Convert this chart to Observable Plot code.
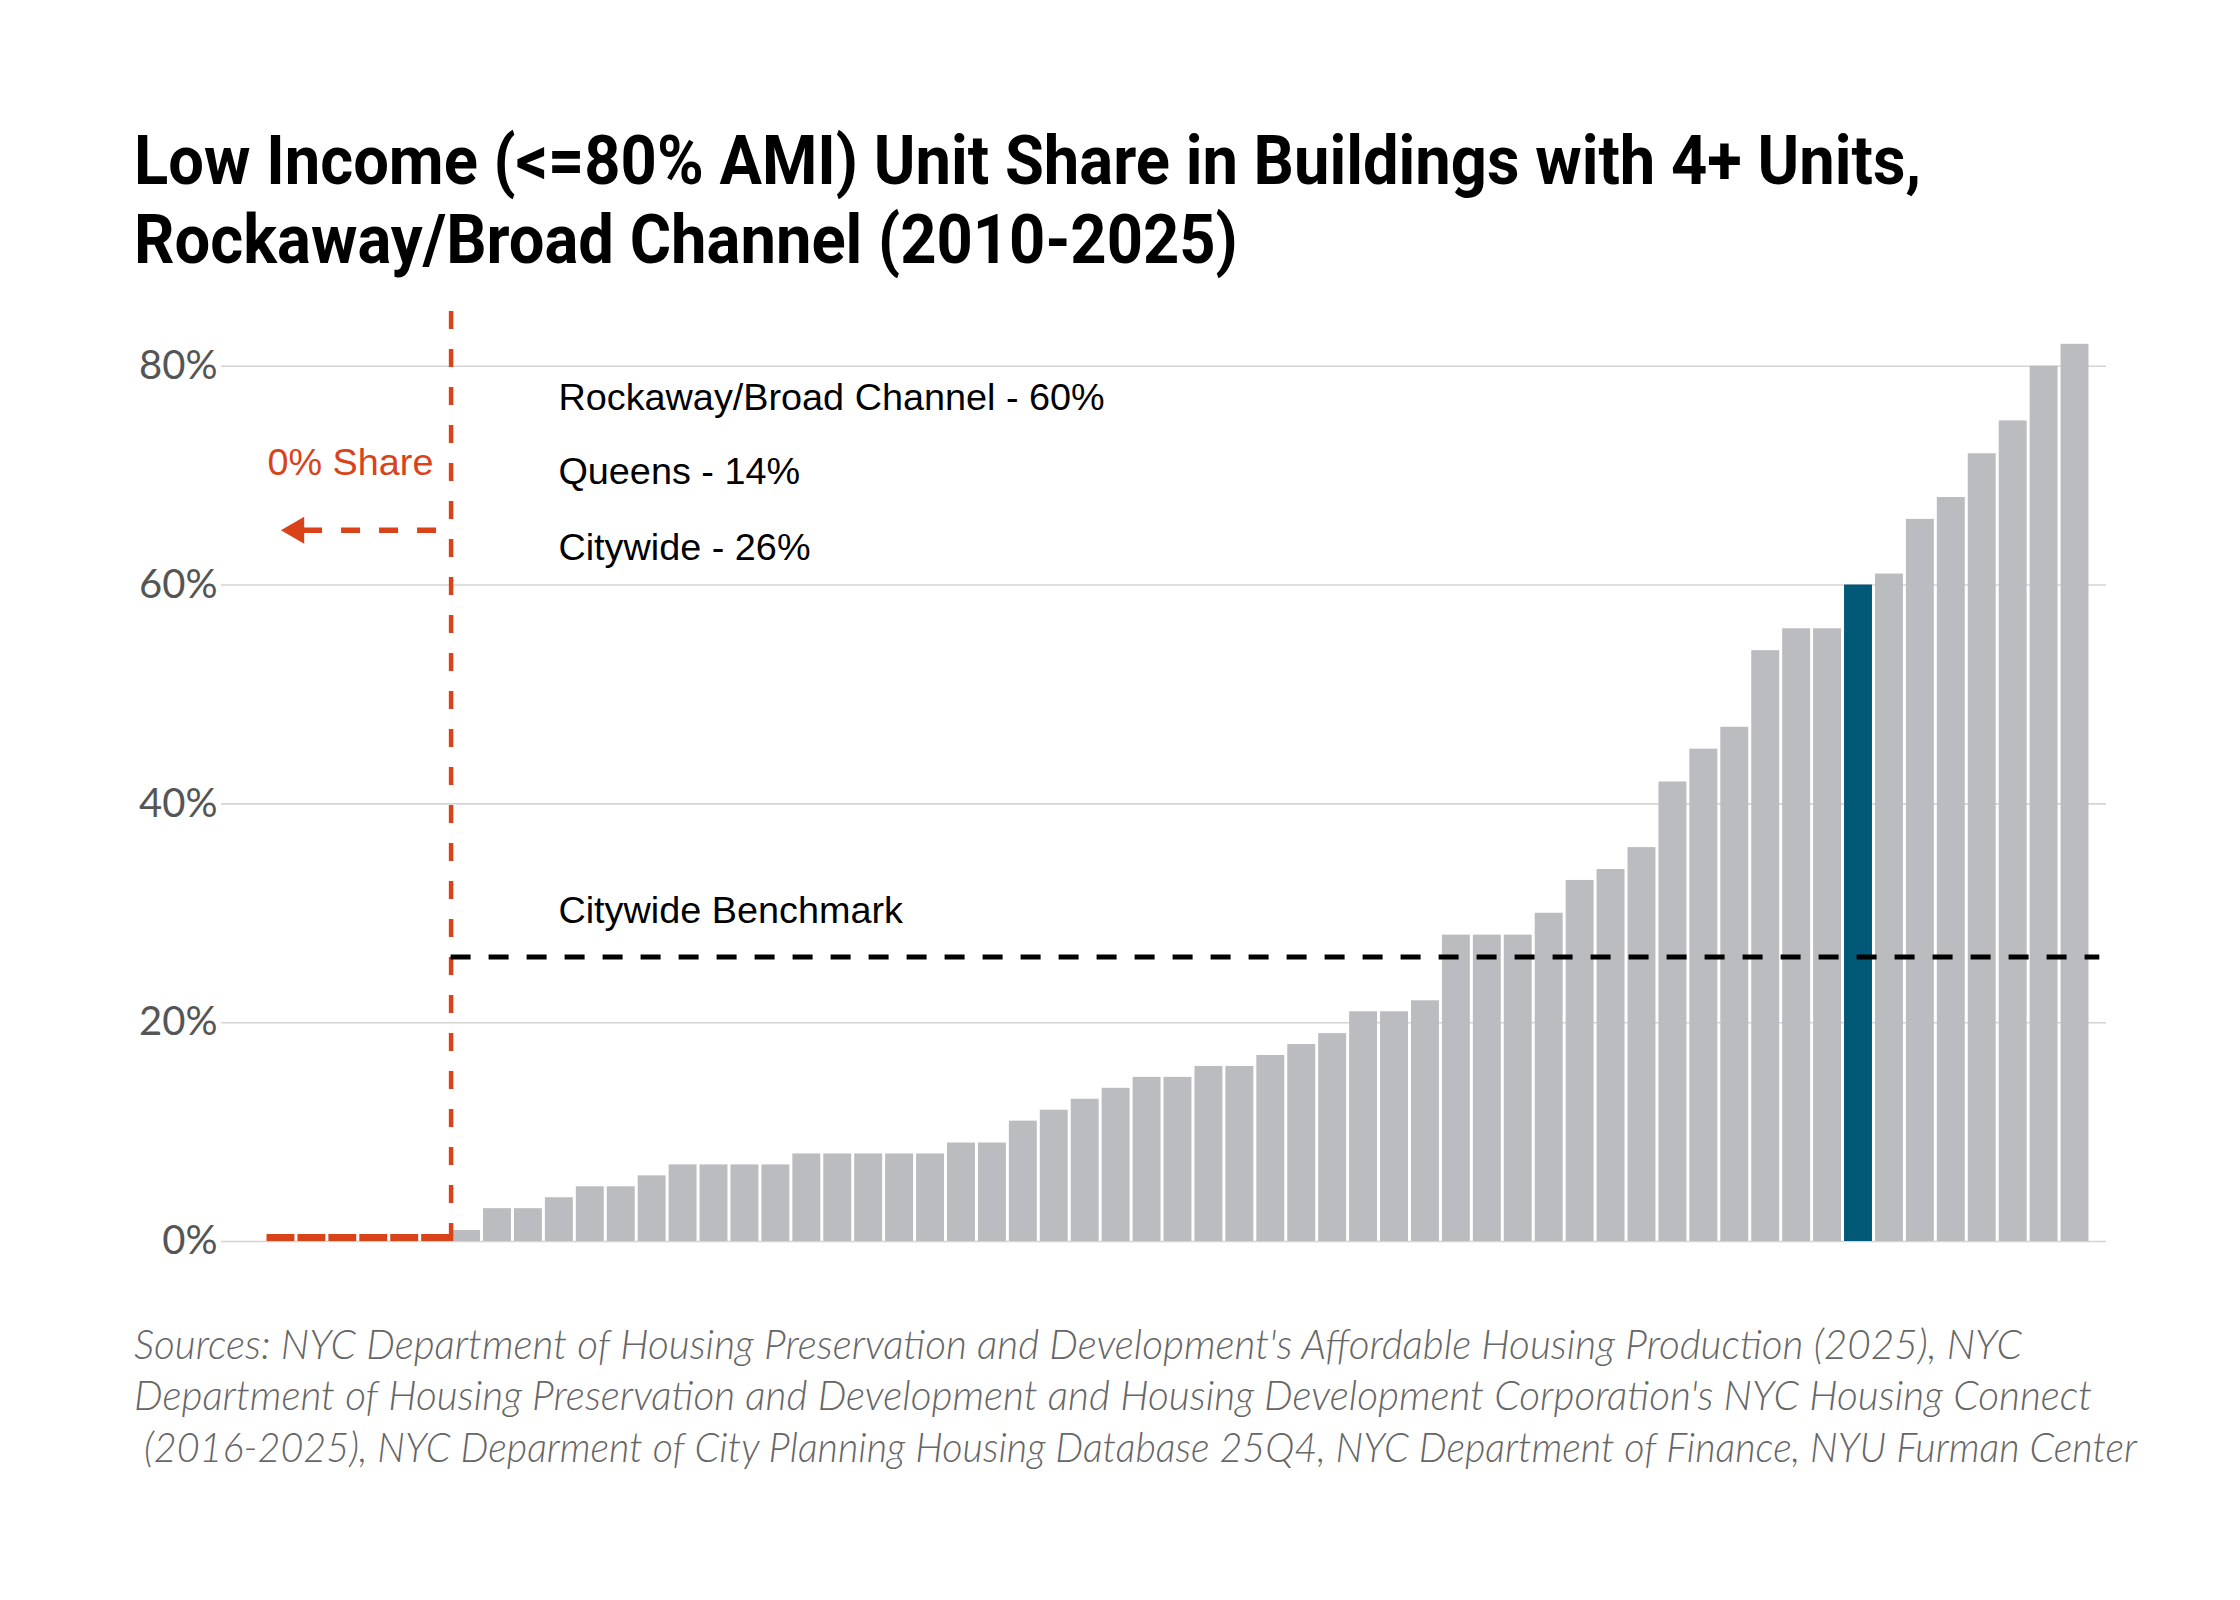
<!DOCTYPE html>
<html>
<head>
<meta charset="utf-8">
<script src="https://cdn.jsdelivr.net/npm/d3@7"></script>
<script src="https://cdn.jsdelivr.net/npm/@observablehq/plot@0.6"></script>
<style>
  html, body { margin: 0; padding: 0; background: #fff; }
  body { width: 2240px; height: 1600px; position: relative; overflow: hidden; }
  #title { position: absolute; left: 134px; top: 122px; margin: 0;
    font-family: "Roboto", "Liberation Sans", sans-serif;
    font-weight: 700; font-size: 68px; line-height: 79px; color: #000; white-space: pre;
    transform-origin: 0 0; }
  #title span, #caption span { display: inline-block; transform-origin: 0 0; }
  #chart { position: absolute; left: 0; top: 290px; }
  #caption { position: absolute; left: 134px; top: 1320px; margin: 0;
    font-family: "Lato", "Open Sans", sans-serif; font-style: italic; font-weight: 300;
    font-size: 35px; line-height: 51.5px; color: #666; white-space: pre; }
</style>
</head>
<body>
<div id="title"></div>
<div id="chart"></div>
<div id="caption"></div>
<script>
// ---- data ----
const titleLines = [
  "Low Income (<=80% AMI) Unit Share in Buildings with 4+ Units,",
  "Rockaway/Broad Channel (2010-2025)"
];
const captionLines = [
  "Sources: NYC Department of Housing Preservation and Development's Affordable Housing Production (2025), NYC",
  "Department of Housing Preservation and Development and Housing Development Corporation's NYC Housing Connect",
  " (2016-2025), NYC Deparment of City Planning Housing Database 25Q4, NYC Department of Finance, NYU Furman Center"
];
// low income unit share (%) of each community district, sorted ascending
const shares = [0, 0, 0, 0, 0, 0,
  1, 3, 3, 4, 5, 5, 6, 7, 7, 7, 7, 8, 8, 8, 8, 8, 9, 9, 11, 12, 13, 14, 15, 15,
  16, 16, 17, 18, 19, 21, 21, 22, 28, 28, 28, 30, 33, 34, 36, 42, 45, 47, 54, 56,
  56, 60, 61, 66, 68, 72, 75, 80, 82];
const highlightShare = 60; // Rockaway/Broad Channel
const benchmarkNames = ["Rockaway/Broad Channel", "Queens", "Citywide"];
const benchmarkValues = [60, 14, 26];
const citywideBenchmark = 26;
const benchmarkLabel = "Citywide Benchmark";
const zeroLabel = "0% Share";
const yTicks = [0, 20, 40, 60, 80];

// ---- header / footer text ----
function fillLines(el, lines) {
  lines.forEach((t, k) => {
    const s = document.createElement("span"); s.textContent = t; el.appendChild(s);
    if (k < lines.length - 1) el.appendChild(document.createElement("br"));
  });
  return [...el.querySelectorAll("span")];
}
const titleEl = document.getElementById("title");
const titleSpans = fillLines(titleEl, titleLines);
const tW = titleSpans[0].getBoundingClientRect().width;
titleEl.style.transform = `scaleX(${1787 / tW})`;

const capEl = document.getElementById("caption");
const capSpans = fillLines(capEl, captionLines);
const cW = capSpans[0].getBoundingClientRect().width;
const cf = 35 * 1888 / cW;
capEl.style.fontSize = cf + "px";
capEl.style.top = (1359 - (25.75 + 0.387 * cf)) + "px";
const capTargets = [1888, 1958, 2003];
capSpans.forEach((s, k) => {
  const w = s.getBoundingClientRect().width;
  s.style.transform = `scaleX(${capTargets[k] / w})`;
});

// ---- chart ----
const highlightIndex = shares.indexOf(highlightShare);
const data = shares.map((v, i) => ({i, v}));
const zeros = data.filter(d => d.v === 0);
const grays = data.filter(d => d.v > 0 && d.i !== highlightIndex);
const highlighted = data.filter(d => d.i === highlightIndex);
const zeroCount = zeros.length;
const labels = benchmarkNames.map((n, k) => `${n} - ${benchmarkValues[k]}%`);

const RED = "#d9431a", GRAY = "#bbbcc0", TEAL = "#025977";
const ANN_FONT = "Liberation Sans, Arial, sans-serif";

const chart = Plot.plot({
  width: 2240,
  height: 991,
  marginTop: 21,
  marginBottom: 40,
  marginLeft: 221,
  marginRight: 134,
  style: {background: "#fff", color: "#555", fontFamily: "Lato, 'Open Sans', sans-serif", fontSize: "40px"},
  x: {domain: [0, shares.length], axis: null, insetLeft: 44, insetRight: 16},
  y: {domain: [0, 85], ticks: yTicks, tickFormat: d => `${d}%`, tickSize: 0, tickPadding: 4, label: null},
  marks: [
    Plot.ruleY(yTicks, {stroke: "#d4d4d4", strokeWidth: 1.6}),
    Plot.rectY(grays, {x: "i", interval: 1, y: "v", fill: GRAY, insetLeft: 1.5, insetRight: 1.5}),
    Plot.rectY(highlighted, {x: "i", interval: 1, y: "v", fill: TEAL, insetLeft: 1.5, insetRight: 1.5}),
    Plot.rectY(zeros, {x: "i", interval: 1, y: "v", fill: RED, insetTop: -7, insetLeft: 1.5, insetRight: 1.5}),
    Plot.ruleX([zeroCount], {stroke: RED, strokeWidth: 4.5, strokeDasharray: "18,20"}),
    Plot.ruleY([citywideBenchmark], {x1: zeroCount, x2: shares.length + 0.3, stroke: "#000", strokeWidth: 5, strokeDasharray: "20,18"}),
    Plot.ruleY([65], {x1: 5.53, x2: 1.0, stroke: RED, strokeWidth: 5.5, strokeDasharray: "19,19"}),
    Plot.dot([65], {x: 1.0, y: d => d, symbol: "triangle", r: 10, fill: RED, stroke: "none", rotate: -90}),
    Plot.text([zeroLabel], {x: 5.43, y: 71.2, text: d => d, textAnchor: "end", fill: RED,
      fontFamily: ANN_FONT, fontSize: 37.8}),
    Plot.text(labels, {x: 9.47, y: (d, k) => [77.1, 70.3, 63.4][k], text: d => d, textAnchor: "start", fill: "#000",
      fontFamily: ANN_FONT, fontSize: 37.8}),
    Plot.text([benchmarkLabel], {x: 9.47, y: 30.2, text: d => d, textAnchor: "start", fill: "#000",
      fontFamily: ANN_FONT, fontSize: 37.8})
  ]
});
document.getElementById("chart").appendChild(chart);
</script>
</body>
</html>
